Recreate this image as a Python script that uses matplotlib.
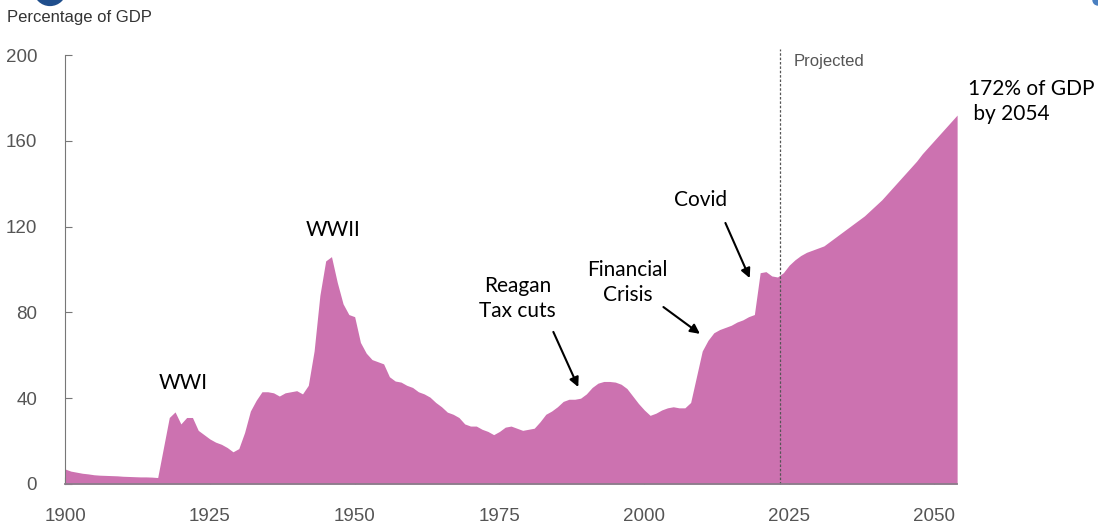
import numpy as np
import matplotlib
matplotlib.use("Agg")
import matplotlib.pyplot as plt
from matplotlib.patches import Ellipse

# debt held by the public, percent of GDP
years = np.arange(1900, 2055)
debt = [
    7, 6, 5.5, 5, 4.7, 4.3, 4.1, 4.0, 3.9, 3.8,              # 1900s
    3.6, 3.5, 3.4, 3.3, 3.3, 3.2, 3.0, 17, 31, 33.6,         # 1910s
    28, 31, 31, 25, 23, 21, 19.5, 18.5, 17, 15,              # 1920s
    16.5, 24, 34, 39, 43, 43, 42.5, 41, 42.5, 43,            # 1930s
    43.5, 42, 46, 62, 88, 104, 106, 94, 84, 79,              # 1940s
    78, 66, 61, 58, 57, 56, 50, 48, 47.5, 46,                # 1950s
    45, 43, 42, 40.5, 38, 36, 33.5, 32.5, 31, 28,            # 1960s
    27, 27, 25.5, 24.5, 23, 24.5, 26.5, 27, 26, 25,          # 1970s
    25.5, 26, 29, 32.5, 34, 36, 38.5, 39.5, 39.5, 40,        # 1980s
    42, 45, 47, 47.8, 47.8, 47.5, 46.5, 44.5, 41, 37.5,      # 1990s
    34.5, 32, 33, 34.5, 35.5, 36, 35.5, 35.5, 38, 50,        # 2000s
    62, 67, 70.5, 72, 73, 74, 75.5, 76.5, 78, 79,            # 2010s
    98.5, 99, 97, 96.5, 98.5, 102, 104.5, 106.5, 108, 109,   # 2020s
    110, 111, 113, 115, 117, 119, 121, 123, 125, 127.5,      # 2030s
    130, 132.5, 135.5, 138.5, 141.5, 144.5, 147.5, 150.5, 154, 157,  # 2040s
    160, 163, 166, 169, 172,                                  # 2050-2054
]
xticks = [1900, 1925, 1950, 1975, 2000, 2025, 2050]
yticks = [0, 40, 80, 120, 160, 200]
projected_start = 2023.5

fill_color = "#cc72b0"
tick_font = ["Liberation Sans", "DejaVu Sans"]
note_font = ["Lato", "DejaVu Sans"]

fig = plt.figure(figsize=(10.98, 5.29), dpi=100)
ax = fig.add_axes([0.0592, 0.0851, 0.8125, 0.8109])

ax.fill_between(years, debt, 0, color=fill_color, linewidth=0, zorder=2)
ax.set_xlim(1900, 2054)
ax.set_ylim(0, 200)

for s in ["top", "right"]:
    ax.spines[s].set_visible(False)
ax.spines["left"].set_color("#777777")
ax.spines["bottom"].set_color("#8a7d8a")
ax.spines["bottom"].set_linewidth(1.3)
ax.spines["left"].set_zorder(3)
ax.spines["bottom"].set_zorder(3)

ax.set_xticks(xticks)
ax.set_yticks(yticks)
ax.tick_params(axis="both", direction="in", length=5, color="#777777",
               labelcolor="#555555", labelsize=13.5)
ax.tick_params(axis="y", pad=20)
ax.tick_params(axis="x", pad=17)
for lab in ax.get_xticklabels() + ax.get_yticklabels():
    lab.set_family(tick_font)

# projected divider
ax.axvline(projected_start, ymin=0, ymax=1.015, color="#555555", lw=0.9,
           ls=(0, (2, 1.5)), clip_on=False, zorder=3)
ax.text(projected_start + 2.2, 197, "Projected", color="#555555", fontsize=12,
        family=tick_font, va="center", ha="left")

fig.text(0.0064, 0.966, "Percentage of GDP", color="#333333", fontsize=12,
         family=tick_font, va="center", ha="left")

# annotations
note = dict(fontsize=15, family=note_font, color="black", ha="center", va="center")
ax.text(1920.4, 47, "WWI", **note)
ax.text(1946.3, 118.4, "WWII", **note)
ax.text(1978.1, 86.5, "Reagan\nTax cuts", linespacing=1.3, **note)
ax.text(1997.1, 94, "Financial\nCrisis", linespacing=1.3, **note)
ax.text(2009.7, 132.4, "Covid", **note)
ax.text(2055.9, 178.3, "172% of GDP\n by 2054", fontsize=15, family=note_font,
        color="black", ha="left", va="center", linespacing=1.3,
        clip_on=False)

arrow = dict(arrowstyle="-|>", color="black", lw=1.5, mutation_scale=14,
             shrinkA=0, shrinkB=0)
ax.annotate("", xy=(1988.6, 45.2), xytext=(1984.3, 70.9), arrowprops=arrow)
ax.annotate("", xy=(2009.6, 70), xytext=(2003.3, 82.5), arrowprops=arrow)
ax.annotate("", xy=(2018.2, 96), xytext=(2014.0, 121.7), arrowprops=arrow)

# cropped logo marks at the edges of the screenshot
fig.patches.append(Ellipse((50 / 1098, 1.02), 32 / 1098, 32 / 529,
                           transform=fig.transFigure, color="#1f4e8c"))
fig.patches.append(Ellipse((1098 / 1098, 1.0), 10 / 1098, 10 / 529,
                           transform=fig.transFigure, color="#4a7fc0"))

fig.savefig("out.png", dpi=100)
